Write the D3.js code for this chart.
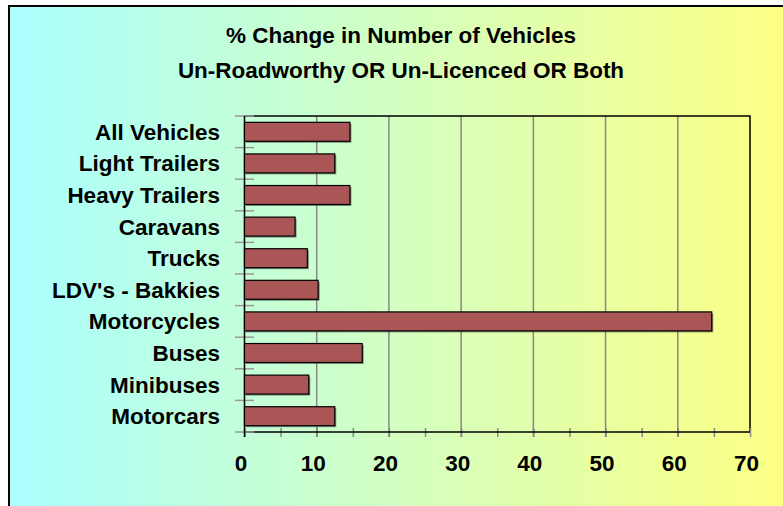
<!DOCTYPE html>
<meta charset="utf-8">
<style>
body { margin:0; background:#fff; }
text { font-family: "Liberation Sans", Arial, sans-serif; font-weight:bold; fill:#000; }
.title { font-size:22.5px; text-anchor:middle; }
.cat { font-size:22.5px; text-anchor:end; }
.xlab { font-size:22.5px; text-anchor:middle; }
.grid line { stroke:#888; stroke-width:1.5; }
.bar { fill:#ab5656; stroke:#000; stroke-width:1.2; }
.shadow { fill:#333; opacity:0.55; }
</style>
<body>
<script src="https://cdnjs.cloudflare.com/ajax/libs/d3/7.8.5/d3.min.js"></script>
<script>

var categories = ["All Vehicles","Light Trailers","Heavy Trailers","Caravans","Trucks",
  "LDV's - Bakkies","Motorcycles","Buses","Minibuses","Motorcars"];
var values = [14.6, 12.5, 14.6, 7.0, 8.7, 10.2, 64.7, 16.3, 8.9, 12.5];
var xTicks = [0,10,20,30,40,50,60,70];
var titleLines = ["% Change in Number of Vehicles","Un-Roadworthy OR Un-Licenced OR Both"];

var W = 783, H = 506;
var plot = {left:244.5, right:750, top:116, bottom:432};

var svg = d3.select("body").append("svg").attr("width",W).attr("height",H);

var grad = svg.append("defs").append("linearGradient").attr("id","bg")
  .attr("x1","0%").attr("x2","100%").attr("y1","0%").attr("y2","0%");
grad.append("stop").attr("offset","0%").attr("stop-color","#aaffff");
grad.append("stop").attr("offset","100%").attr("stop-color","#ffff80");

// chart frame (right and bottom edges fall outside the window)
svg.append("rect").attr("x",9).attr("y",6).attr("width",800).attr("height",600)
  .attr("fill","url(#bg)").attr("stroke","#000").attr("stroke-width",2);

svg.selectAll(".title").data(titleLines).enter().append("text")
  .attr("class","title")
  .attr("x",401)
  .attr("y",(d,i)=> i==0 ? 43 : 77.5)
  .text(d=>d);

var x = d3.scaleLinear().domain([0,70]).range([plot.left, plot.right]);
var y = d3.scaleBand().domain(categories).range([plot.top, plot.bottom]).paddingInner(0.4).paddingOuter(0.2);

// vertical gridlines
svg.append("g").attr("class","grid").selectAll("line")
  .data(xTicks.slice(1,-1)).enter().append("line")
  .attr("x1",d=>x(d)).attr("x2",d=>x(d))
  .attr("y1",plot.top).attr("y2",plot.bottom+5);

// plot border top + right
svg.append("path")
  .attr("d","M"+plot.left+","+plot.top+"H"+plot.right+"V"+plot.bottom)
  .attr("fill","none").attr("stroke","#000").attr("stroke-width",1.5);

// x axis
var xAxis = d3.axisBottom(x).tickValues(d3.range(0,71,5)).tickSize(9).tickFormat("");
var gx = svg.append("g").attr("transform","translate(0,"+(plot.bottom-4)+")").call(xAxis);
gx.select(".domain").remove();
gx.selectAll(".tick line").attr("stroke","#888").attr("stroke-width",1.5);
svg.append("line").attr("x1",plot.left).attr("x2",plot.right)
  .attr("y1",plot.bottom).attr("y2",plot.bottom).attr("stroke","#000").attr("stroke-width",1.5);

svg.selectAll(".xlab").data(xTicks).enter().append("text")
  .attr("class","xlab")
  .attr("x",d=>x(d)-3.5).attr("y",471)
  .text(d=>d);

// y axis ticks at category boundaries
var bounds = d3.range(categories.length+1).map(i=> plot.top + i*(plot.bottom-plot.top)/categories.length);
svg.selectAll(".ytick").data(bounds).enter().append("line")
  .attr("x1",235).attr("x2",254)
  .attr("y1",d=>d).attr("y2",d=>d)
  .attr("stroke","#999").attr("stroke-width",1.5);
svg.append("line").attr("x1",plot.left).attr("x2",plot.left)
  .attr("y1",plot.top).attr("y2",plot.bottom+5).attr("stroke","#000").attr("stroke-width",1.5);

// bars
var rows = categories.map((c,i)=>({cat:c, v:values[i]}));
svg.selectAll(".shadow").data(rows).enter().append("rect")
  .attr("class","shadow")
  .attr("x",x(0)+1.5).attr("y",d=>y(d.cat)+1.5)
  .attr("width",d=>x(d.v)-x(0)).attr("height",y.bandwidth());
svg.selectAll(".bar").data(rows).enter().append("rect")
  .attr("class","bar")
  .attr("x",x(0)).attr("y",d=>y(d.cat))
  .attr("width",d=>x(d.v)-x(0)).attr("height",y.bandwidth());

svg.selectAll(".cat").data(categories).enter().append("text")
  .attr("class","cat")
  .attr("x",220).attr("y",d=>y(d)+y.bandwidth()/2+8)
  .text(d=>d);

</script>
</body>
